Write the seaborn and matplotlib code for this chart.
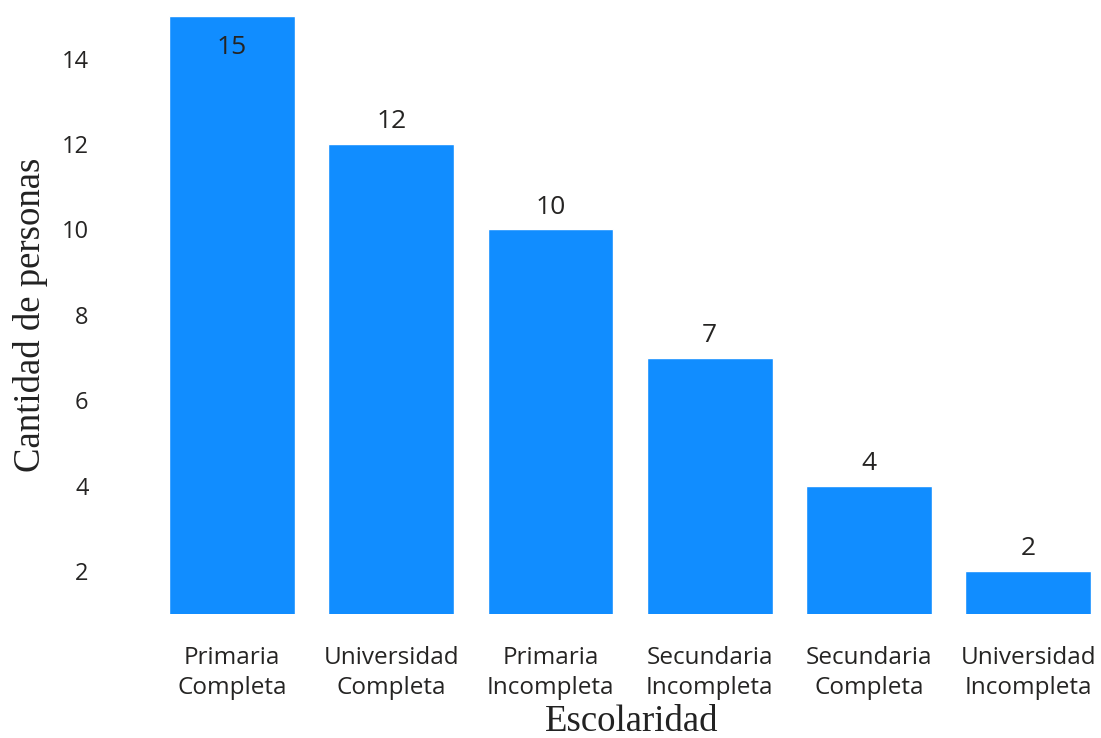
import matplotlib
matplotlib.use("Agg")
import matplotlib.pyplot as plt
import seaborn as sns
import pandas as pd

# Nivel de escolaridad y cantidad de personas
categorias = ["Primaria\nCompleta", "Universidad\nCompleta", "Primaria\nIncompleta",
              "Secundaria\nIncompleta", "Secundaria\nCompleta", "Universidad\nIncompleta"]
cantidades = [15, 12, 10, 7, 4, 2]
ticks_y = [2, 4, 6, 8, 10, 12, 14]

df = pd.DataFrame({"Escolaridad": categorias, "Cantidad": cantidades})

sns.set_theme(style="white")
plt.rcParams["font.family"] = ["Open Sans", "DejaVu Sans"]

fig = plt.figure(figsize=(11.01, 7.38), dpi=100)
ax = fig.add_axes([152.5 / 1101, 124.3 / 738, (1101 - 152.5) / 1101, (722 - 124.3) / 738])

sns.barplot(data=df, x="Escolaridad", y="Cantidad", color="#118DFF",
            saturation=1, width=0.79, ax=ax)

ax.set_ylim(1, 15)
ax.set_xlim(-0.5, 5.458)
ax.set_yticks(ticks_y)
ax.tick_params(axis="y", length=0, pad=46, labelsize=17, labelcolor="#252423")
ax.tick_params(axis="x", length=0, pad=23, labelsize=17.5, labelcolor="#252423")
for lbl in ax.get_xticklabels():
    lbl.set_linespacing(1.35)
for s in ax.spines.values():
    s.set_visible(False)
ax.grid(False)

# Etiquetas de valor sobre cada barra (dentro si no hay espacio)
ymax = ax.get_ylim()[1]
for i, v in enumerate(cantidades):
    if v >= ymax - 0.5:
        ax.annotate(str(v), (i, v), xytext=(0, -14), textcoords="offset points",
                    ha="center", va="top", fontsize=19, color="#252423")
    else:
        ax.annotate(str(v), (i, v), xytext=(0, 7), textcoords="offset points",
                    ha="center", va="bottom", fontsize=19, color="#252423")

serif = ["Liberation Serif", "DejaVu Serif"]
ax.set_xlabel("Escolaridad", fontsize=26.5, family=serif, color="#222222")
ax.set_ylabel("Cantidad de personas", fontsize=26.5, family=serif, color="#222222")
ax.xaxis.set_label_coords(0.505, -0.152)
ax.yaxis.set_label_coords(-0.11, 0.5)

fig.savefig("out.png", dpi=100)
